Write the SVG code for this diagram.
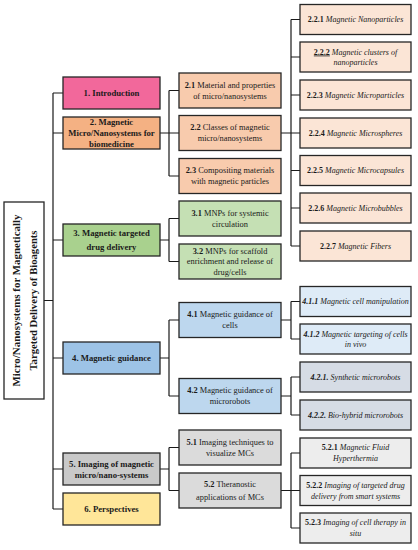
<svg xmlns="http://www.w3.org/2000/svg" width="418" height="550" viewBox="0 0 418 550">
<style>
text{font-family:"Liberation Serif","Times New Roman",serif;fill:#1a1a1a;text-anchor:middle}
.box{stroke:#262626;stroke-width:1.3}
.l1{font-size:8.7px;font-weight:bold}
.l2{font-size:8.4px}
.l3{font-size:8px;font-style:italic}
.b{font-weight:bold}
.n{font-style:normal}
.u{text-decoration:underline}
.root{font-size:10.5px;font-weight:bold}
#connectors path{fill:none;stroke:#1a1a1a;stroke-width:1.2}
</style>
<rect width="418" height="550" fill="#fff"/>
<g id="connectors">
<path d="M44 300.5H53M53 93V509M53 93H63M53 133H63M53 240H63M53 358H63M53 469H63M53 509H63"/>
<path d="M160 133H169M169 90.5V176M169 90.5H179M169 133H179M169 176H179"/>
<path d="M160 240H169M169 218.5V261.5M169 218.5H179M169 261.5H179"/>
<path d="M160 358H169M169 320V396M169 320H179M169 396H179"/>
<path d="M160 469H169M169 447.5V490.5M169 447.5H179M169 490.5H179"/>
<path d="M281 133H291M291 19.5V246M291 19.5H300M291 57H300M291 95H300M291 133H300M291 170.5H300M291 208H300M291 246H300"/>
<path d="M281 320H291M291 301.5V339M291 301.5H300M291 339H300"/>
<path d="M281 396H291M291 377V415M291 377H300M291 415H300"/>
<path d="M281 490.5H291M291 453V528M291 453H300M291 490.5H300M291 528H300"/>
</g>
<g id="root">
<rect class="box" x="4" y="202" width="40" height="197" fill="#fff"/>
<g transform="translate(24,300.5) rotate(-90)">
<text class="root" x="0" y="-4" textLength="172" lengthAdjust="spacingAndGlyphs">Micro/Nanosystems for Magnetically</text>
<text class="root" x="0" y="13" textLength="140" lengthAdjust="spacingAndGlyphs">Targeted Delivery of Bioagents</text>
</g>
</g>
<g id="n1"><rect class="box" x="63" y="77" width="97" height="32" fill="#F2689B"/><text class="l1" x="111.5" y="96">1. Introduction</text></g>
<g id="n2"><rect class="box" x="63" y="117" width="97" height="32" fill="#F4B183"/><text class="l1" x="111.5" y="125">2. Magnetic</text><text class="l1" x="111.5" y="136">Micro/Nanosystems for</text><text class="l1" x="111.5" y="147">biomedicine</text></g>
<g id="n3"><rect class="box" x="63" y="224" width="97" height="32" fill="#A9D18E"/><text class="l1" x="111.5" y="235.7">3. Magnetic targeted</text><text class="l1" x="111.5" y="250.3">drug delivery</text></g>
<g id="n4"><rect class="box" x="63" y="342" width="97" height="32" fill="#9DC3E6"/><text class="l1" x="111.5" y="361">4. Magnetic guidance</text></g>
<g id="n5"><rect class="box" x="63" y="453" width="97" height="32" fill="#C9C9C9"/><text class="l1" x="111.5" y="467">5. Imaging of magnetic</text><text class="l1" x="111.5" y="477.5">micro/nano-systems</text></g>
<g id="n6"><rect class="box" x="63" y="493" width="97" height="32" fill="#FFE699"/><text class="l1" x="111.5" y="512">6. Perspectives</text></g>

<g id="n21"><rect class="box" x="179" y="73" width="102" height="35" fill="#F8CBAD"/><text class="l2" x="230" y="87.8"><tspan class="b">2.1</tspan> Material and properties</text><text class="l2" x="230" y="98.8">of micro/nanosystems</text></g>
<g id="n22"><rect class="box" x="179" y="115.5" width="102" height="35" fill="#F8CBAD"/><text class="l2" x="230" y="130.3"><tspan class="b">2.2</tspan> Classes of magnetic</text><text class="l2" x="230" y="141.3">micro/nanosystems</text></g>
<g id="n23"><rect class="box" x="179" y="158.5" width="102" height="35" fill="#F8CBAD"/><text class="l2" x="230" y="173.3"><tspan class="b">2.3</tspan> Compositing materials</text><text class="l2" x="230" y="184.3">with magnetic particles</text></g>
<g id="n31"><rect class="box" x="179" y="201" width="102" height="35" fill="#C5E0B4"/><text class="l2" x="230" y="215.8"><tspan class="b">3.1</tspan> MNPs for systemic</text><text class="l2" x="230" y="226.8">circulation</text></g>
<g id="n32"><rect class="box" x="179" y="244" width="102" height="35" fill="#C5E0B4"/><text class="l2" x="230" y="253.8"><tspan class="b">3.2</tspan> MNPs for scaffold</text><text class="l2" x="230" y="264.3">enrichment and release of</text><text class="l2" x="230" y="274.8">drug/cells</text></g>
<g id="n41"><rect class="box" x="179" y="302.5" width="102" height="35" fill="#BDD7EE"/><text class="l2" x="230" y="317.3"><tspan class="b">4.1</tspan> Magnetic guidance of</text><text class="l2" x="230" y="328.3">cells</text></g>
<g id="n42"><rect class="box" x="179" y="378.5" width="102" height="35" fill="#BDD7EE"/><text class="l2" x="230" y="393.3"><tspan class="b">4.2</tspan> Magnetic guidance of</text><text class="l2" x="230" y="404.3">microrobots</text></g>
<g id="n51"><rect class="box" x="179" y="430" width="102" height="35" fill="#DBDBDB"/><text class="l2" x="230" y="444.8"><tspan class="b">5.1</tspan> Imaging techniques to</text><text class="l2" x="230" y="455.8">visualize MCs</text></g>
<g id="n52"><rect class="box" x="179" y="473" width="102" height="35" fill="#DBDBDB"/><text class="l2" x="230" y="486.8"><tspan class="b">5.2</tspan> Theranostic</text><text class="l2" x="230" y="499.8">applications of MCs</text></g>

<g id="n221"><rect class="box" x="300" y="4.5" width="111" height="30" fill="#FBE5D6"/><text class="l3" x="355.5" y="22.2"><tspan class="b n">2.2.1</tspan> Magnetic Nanoparticles</text></g>
<g id="n222"><rect class="box" x="300" y="42" width="111" height="30" fill="#FBE5D6"/><text class="l3" x="355.5" y="54.5"><tspan class="b n u">2.2.2</tspan> Magnetic clusters of</text><text class="l3" x="355.5" y="65">nanoparticles</text></g>
<g id="n223"><rect class="box" x="300" y="80" width="111" height="30" fill="#FBE5D6"/><text class="l3" x="355.5" y="97.7"><tspan class="b n">2.2.3</tspan> Magnetic Microparticles</text></g>
<g id="n224"><rect class="box" x="300" y="118" width="111" height="30" fill="#FBE5D6"/><text class="l3" x="355.5" y="135.7"><tspan class="b n">2.2.4</tspan> Magnetic Microspheres</text></g>
<g id="n225"><rect class="box" x="300" y="155.5" width="111" height="30" fill="#FBE5D6"/><text class="l3" x="355.5" y="173.2"><tspan class="b n">2.2.5</tspan> Magnetic Microcapsules</text></g>
<g id="n226"><rect class="box" x="300" y="193" width="111" height="30" fill="#FBE5D6"/><text class="l3" x="355.5" y="210.7"><tspan class="b n">2.2.6</tspan> Magnetic Microbubbles</text></g>
<g id="n227"><rect class="box" x="300" y="231" width="111" height="30" fill="#FBE5D6"/><text class="l3" x="355.5" y="248.7"><tspan class="b n">2.2.7</tspan> Magnetic Fibers</text></g>

<g id="n411"><rect class="box" x="300" y="286.5" width="111" height="30" fill="#DEEBF7"/><text class="l3" x="355.5" y="304.2"><tspan class="b">4.1.1</tspan> Magnetic cell manipulation</text></g>
<g id="n412"><rect class="box" x="300" y="324" width="111" height="30" fill="#DEEBF7"/><text class="l3" x="355.5" y="336.5"><tspan class="b">4.1.2</tspan> Magnetic targeting of cells</text><text class="l3" x="355.5" y="347">in vivo</text></g>
<g id="n421"><rect class="box" x="300" y="362" width="111" height="30" fill="#D6DCE5"/><text class="l3" x="355.5" y="379.7"><tspan class="b">4.2.1.</tspan> Synthetic microrobots</text></g>
<g id="n422"><rect class="box" x="300" y="400" width="111" height="30" fill="#D6DCE5"/><text class="l3" x="355.5" y="417.7"><tspan class="b">4.2.2.</tspan> Bio-hybrid microrobots</text></g>
<g id="n521"><rect class="box" x="300" y="438" width="111" height="30" fill="#EDEDED"/><text class="l3" x="355.5" y="450.2"><tspan class="b n">5.2.1</tspan> Magnetic Fluid</text><text class="l3" x="355.5" y="461.2">Hyperthermia</text></g>
<g id="n522"><rect class="box" x="300" y="475.5" width="111" height="30" fill="#EDEDED"/><text class="l3" x="355.5" y="487.7"><tspan class="b n">5.2.2</tspan> Imaging of targeted drug</text><text class="l3" x="355.5" y="498.7">delivery from smart systems</text></g>
<g id="n523"><rect class="box" x="300" y="513" width="111" height="30" fill="#EDEDED"/><text class="l3" x="355.5" y="525.2"><tspan class="b n">5.2.3</tspan> Imaging of cell therapy in</text><text class="l3" x="355.5" y="536.2">situ</text></g>
</svg>
